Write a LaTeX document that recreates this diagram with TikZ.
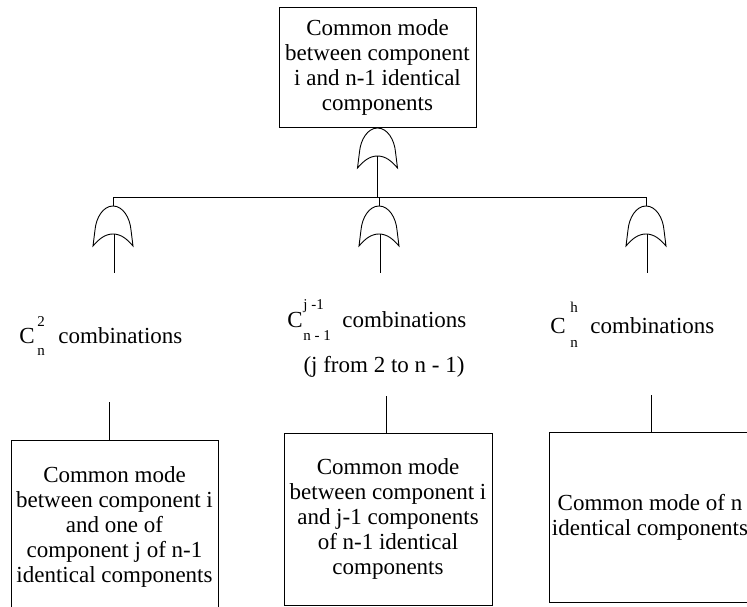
\documentclass[tikz,border=0pt]{standalone}
\usepackage{fontspec}
\setmainfont{Liberation Serif}
\newfontfamily\tnr{Liberation Serif}
\tikzset{
  orgate/.pic={
    \draw (0,0) .. controls (-10,0) and (-17,12) .. (-18,24) -- (-20,40)
      .. controls (-14,33) and (-8,28) .. (0,28)
      .. controls (8,28) and (14,33) .. (20,40) -- (18,24)
      .. controls (17,12) and (10,0) .. cycle;
    \coordinate (-top) at (0,0);
    \coordinate (-in) at (0,28);
  },
  evbox/.style={draw, rectangle, inner sep=0pt, outer sep=0pt, align=center,
    font=\tnr\fontsize{23}{25}\selectfont},
  lbl/.style={inner sep=0pt, anchor=base west, font=\tnr\fontsize{23}{25}\selectfont},
  scr/.style={inner sep=0pt, anchor=base west, font=\tnr\fontsize{15}{17}\selectfont},
}
\begin{document}
\begin{tikzpicture}[x=1pt,y=-1pt,line width=0.9pt]
\useasboundingbox (0,0) rectangle (747,607);

% top event
\node[evbox, minimum width=197pt, minimum height=120pt] (top) at (377.5,67)
  {Common mode\\between component\\i and n-1 identical\\components};
\pic (g0) at (377.5,128) {orgate};

% intermediate gates
\coordinate (hlL) at (113,197);
\coordinate (hlR) at (646,197);
\pic (g1) at (113,206) {orgate};
\pic (g2) at (379,206) {orgate};
\pic (g3) at (646,206) {orgate};

\draw (g0-in) -- (g0-in |- hlL);
\draw (hlL) -- (hlR);
\draw (hlL) -- (g1-top);
\draw (g2-top |- hlL) -- (g2-top);
\draw (hlR) -- (g3-top);

\coordinate (o1) at (114,273);
\coordinate (o2) at (380,273);
\coordinate (o3) at (647,273);
\draw (g1-in -| o1) -- (o1);
\draw (g2-in -| o2) -- (o2);
\draw (g3-in -| o3) -- (o3);

% labels
\node[lbl] (c1) at (19,343) {C};
\node[scr] (c1sup) at (37,326) {2};
\node[scr] (c1sub) at (37,355) {n};
\node[lbl] (c1t) at (58,343) {combinations};

\node[lbl] (c2) at (287,327) {C};
\node[scr] (c2sup) at (303,309) {j -1};
\node[scr] (c2sub) at (303,340) {n - 1};
\node[lbl] (c2t) at (342,327) {combinations};
\node[lbl, anchor=base] (c2r) at (384,372) {(j from 2 to n - 1)};

\node[lbl] (c3) at (550,333) {C};
\node[scr] (c3sup) at (570,312) {h};
\node[scr] (c3sub) at (570,347) {n};
\node[lbl] (c3t) at (590,333) {combinations};

% bottom events
\node[evbox, minimum width=207pt, minimum height=174pt] (b1) at (114.5,527)
  {Common mode\\between component i\\and one of\\component j of n-1\\identical components};
\node[evbox, minimum width=208pt, minimum height=172pt] (b2) at (388,519)
  {Common mode\\between component i\\and j-1 components\\of n-1 identical\\components};
\node[evbox, minimum width=202pt, minimum height=170pt] (b3) at (650,517)
  {Common mode of n\\identical components};

\coordinate (s1) at (109,402);
\coordinate (s2) at (386,396);
\coordinate (s3) at (651,395);
\draw (s1) -- (s1 |- b1.north);
\draw (s2) -- (s2 |- b2.north);
\draw (s3) -- (s3 |- b3.north);
\end{tikzpicture}
\end{document}
